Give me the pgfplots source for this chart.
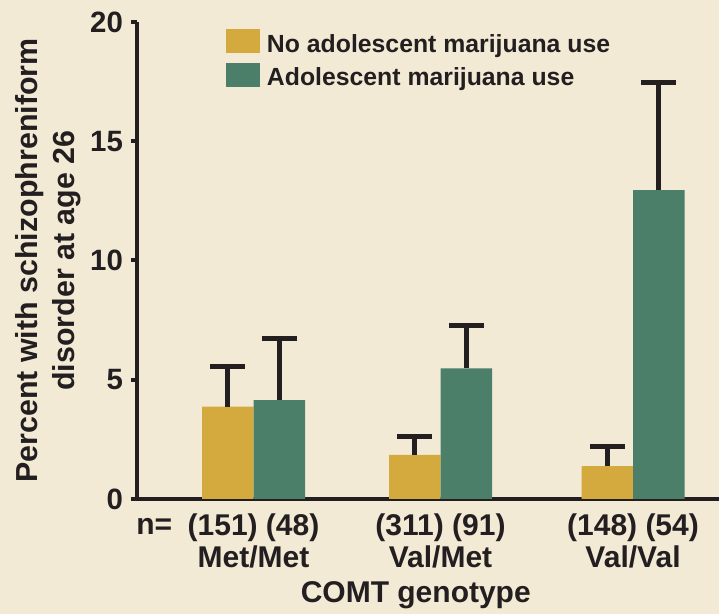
\documentclass[border=0pt]{standalone}
\usepackage{fontspec}
\setmainfont{Liberation Sans}
\usepackage{pgfplots}
\pgfplotsset{compat=1.18}
\definecolor{bg}{HTML}{F3EAD6}
\definecolor{gold}{HTML}{D4AA3E}
\definecolor{mjgreen}{HTML}{4B7F6A}
\definecolor{ink}{HTML}{231F20}
\begin{document}
\begin{tikzpicture}
\path[use as bounding box, fill=bg] (-68.5pt,-57.5pt) rectangle (291pt,249.5pt);
\begin{axis}[
  at={(0,0)}, anchor=south west,
  scale only axis, width=291pt, height=238.5pt,
  xmin=-0.614, xmax=2.453, ymin=0, ymax=20,
  axis lines=left, axis line style={-, line width=2pt, ink},
  clip=false,
  ybar=0pt, bar width=25.75pt,
  ytick={0,5,10,15,20},
  major tick length=3pt, tick align=outside,
  ytick style={line width=2pt, ink},
  /pgf/number format/assume math mode=true,
  yticklabel style={font=\bfseries\fontsize{14.7}{16}\selectfont, text=ink, anchor=east, inner sep=0pt, xshift=-3.85pt},
  xtick={0,0.9855,2}, xticklabels={(151) (48),(311) (91),(148) (54)},
  xtick style={draw=none},
  xticklabel style={font=\bfseries\fontsize{15}{16}\selectfont, text=ink, anchor=base, inner sep=0pt, yshift=-15.5pt},
  extra x ticks={0,0.9855,2}, extra x tick labels={Met/Met,Val/Met,Val/Val},
  extra x tick style={xtick style={draw=none}, xticklabel style={yshift=-16pt}},
  legend style={at={(axis description cs:0.1529,0.9847)}, anchor=north west, draw=none, fill=none, inner sep=0pt, outer sep=0pt, row sep=3.65pt, column sep=3.5pt, font=\bfseries\fontsize{12.4}{14}\selectfont, text=ink, nodes={inner sep=0pt}, cells={anchor=base west}},
  legend image code/.code={\fill[#1] (0pt,-0.5pt) rectangle (17pt,11.5pt);},
]
\addplot[fill=gold, draw=none, error bars/.cd, y dir=plus, y explicit,
  error bar style={line width=2.5pt, ink},
  error mark options={rotate=90, line width=2.5pt, ink, mark size=8.75pt}]
  coordinates {(0,3.87) +- (0,1.67) (0.9855,1.85) +- (0,0.77) (2,1.38) +- (0,0.84)};
\addplot[fill=mjgreen, draw=none, error bars/.cd, y dir=plus, y explicit,
  error bar style={line width=2.5pt, ink},
  error mark options={rotate=90, line width=2.5pt, ink, mark size=8.75pt}]
  coordinates {(0,4.15) +- (0,2.59) (0.9855,5.48) +- (0,1.78) (2,12.95) +- (0,4.52)};
\legend{No adolescent marijuana use, Adolescent marijuana use}
\node[rotate=90, align=center, text=ink, font=\bfseries\fontsize{15.2}{18.5}\selectfont]
  at ([xshift=-44.25pt]axis description cs:0,0.5) {Percent with schizophreniform\\disorder at age 26};
\node[anchor=base west, inner sep=0pt, text=ink, font=\bfseries\fontsize{15}{16}\selectfont]
  at ([xshift=-0.5pt,yshift=-18pt]axis description cs:0,0) {n=};
\node[anchor=base, inner sep=0pt, text=ink, font=\bfseries\fontsize{15}{16}\selectfont]
  at ([yshift=-52pt]axis description cs:0.479,0) {COMT genotype};
\end{axis}
\end{tikzpicture}
\end{document}
